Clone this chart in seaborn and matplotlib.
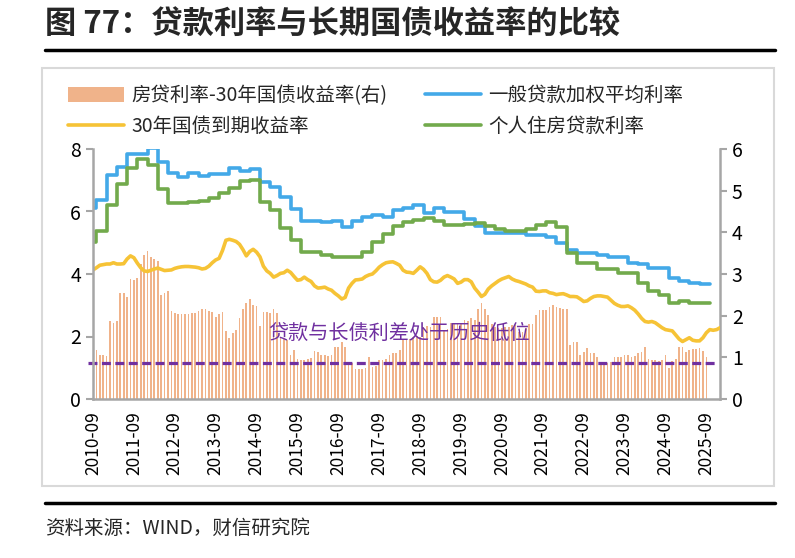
import numpy as np
import pandas as pd
import matplotlib
matplotlib.use("Agg")
import matplotlib.pyplot as plt
from matplotlib.patches import Patch, Rectangle
from matplotlib.lines import Line2D
import seaborn as sns


TITLE = "图 77：贷款利率与长期国债收益率的比较"
SOURCE = "资料来源：WIND，财信研究院"
NOTE = "贷款与长债利差处于历史低位"
LABELS = ["房贷利率-30年国债收益率(右)", "30年国债到期收益率", "一般贷款加权平均利率", "个人住房贷款利率"]

# quarterly series (left axis), first value dated 2010-07
blue_rate = [6.10, 6.37, 7.17, 7.41, 7.84, 7.84, 8.02, 7.59, 7.22, 7.09,
             7.24, 7.14, 7.20, 7.20, 7.38, 7.30, 7.35, 6.95, 6.79, 6.47,
             6.07, 5.70, 5.70, 5.65, 5.70, 5.52, 5.70, 5.81, 5.89, 5.81,
             6.05, 6.10, 6.21, 5.96, 6.10, 5.99, 5.99, 5.75, 5.54, 5.30,
             5.30, 5.30, 5.32, 5.25, 5.25, 5.19, 5.00, 4.77, 4.66, 4.66,
             4.60, 4.53, 4.53, 4.36, 4.32, 4.18, 4.18, 3.86, 3.79, 3.70,
             3.68, 3.68]
green_rate = [5.03, 5.39, 6.21, 6.88, 7.38, 7.67, 7.49, 6.71, 6.26, 6.26,
              6.31, 6.34, 6.42, 6.58, 6.74, 6.99, 7.01, 6.31, 6.05, 5.46,
              5.09, 4.71, 4.71, 4.61, 4.55, 4.55, 4.55, 4.71, 5.03, 5.28,
              5.55, 5.67, 5.73, 5.78, 5.70, 5.57, 5.57, 5.60, 5.62, 5.55,
              5.43, 5.39, 5.39, 5.43, 5.57, 5.67, 5.51, 4.66, 4.34, 4.34,
              4.16, 4.16, 4.02, 4.02, 3.70, 3.47, 3.33, 3.08, 3.13, 3.08,
              3.06, 3.06]

# monthly 30y yield (left axis), 2010-09 .. 2026-01
yield_30y = [4.13, 4.20, 4.28, 4.30, 4.32, 4.32, 4.36, 4.32, 4.32, 4.33,
             4.48, 4.58, 4.52, 4.35, 4.20, 4.10, 4.08, 4.12, 4.16, 4.19,
             4.15, 4.11, 4.12, 4.13, 4.18, 4.21, 4.23, 4.24, 4.24, 4.23,
             4.22, 4.20, 4.16, 4.18, 4.25, 4.36, 4.45, 4.50, 4.75, 5.08,
             5.11, 5.08, 5.04, 4.95, 4.78, 4.58, 4.72, 4.79, 4.70, 4.55,
             4.25, 4.10, 4.02, 3.90, 3.95, 4.02, 4.04, 4.12, 4.05, 3.92,
             3.80, 3.82, 3.90, 3.82, 3.76, 3.62, 3.55, 3.56, 3.58, 3.52,
             3.48, 3.38, 3.30, 3.20, 3.25, 3.55, 3.70, 3.81, 3.82, 3.84,
             3.92, 3.97, 4.00, 4.10, 4.22, 4.30, 4.36, 4.38, 4.39, 4.34,
             4.28, 4.12, 4.06, 4.05, 4.02, 4.12, 4.23, 4.15, 4.02, 3.82,
             3.75, 3.74, 3.80, 3.90, 3.95, 3.90, 3.84, 3.70, 3.74, 3.82,
             3.82, 3.75, 3.55, 3.42, 3.28, 3.35, 3.52, 3.62, 3.70, 3.78,
             3.84, 3.88, 3.92, 3.84, 3.79, 3.76, 3.72, 3.68, 3.62, 3.58,
             3.45, 3.44, 3.46, 3.46, 3.40, 3.38, 3.34, 3.36, 3.37, 3.33,
             3.28, 3.28, 3.27, 3.20, 3.12, 3.14, 3.22, 3.28, 3.30, 3.30,
             3.28, 3.26, 3.16, 3.06, 3.00, 2.96, 2.96, 2.98, 2.92, 2.84,
             2.72, 2.58, 2.48, 2.46, 2.48, 2.44, 2.36, 2.28, 2.22, 2.20,
             2.18, 2.05, 1.92, 1.84, 1.90, 1.96, 1.88, 1.86, 1.86, 1.96,
             2.12, 2.22, 2.20, 2.22, 2.28]

# monthly spread (right axis), 2010-10 .. 2025-09
spread = [1.18, 1.06, 1.05, 1.03, 1.87, 1.83, 1.87, 2.54, 2.54, 2.46, 2.88, 2.86,
          2.91, 3.24, 3.46, 3.55, 3.42, 3.35, 3.31, 2.50, 2.54, 2.59, 2.11, 2.07,
          2.05, 2.03, 2.03, 2.05, 2.07, 2.07, 2.11, 2.15, 2.17, 2.12, 2.10, 1.98,
          2.04, 2.08, 1.63, 1.46, 1.59, 1.65, 1.94, 2.17, 2.30, 2.39, 2.25, 2.23,
          1.75, 2.10, 2.10, 2.06, 2.15, 2.06, 1.50, 1.45, 1.42, 1.06, 1.18, 0.95,
          0.94, 0.94, 0.96, 0.98, 1.16, 1.12, 1.06, 1.06, 1.04, 1.06, 1.26, 1.26,
          1.38, 1.26, 0.86, 0.86, 0.72, 0.72, 0.72, 0.74, 1.00, 0.78, 0.80, 0.94,
          0.94, 0.96, 1.06, 1.10, 1.10, 1.18, 1.42, 1.42, 1.45, 1.50, 1.52, 1.50,
          1.74, 1.76, 1.74, 1.98, 1.98, 1.98, 1.66, 1.68, 1.82, 1.82, 1.80, 1.82,
          1.90, 1.88, 1.94, 1.90, 2.17, 2.31, 2.15, 2.01, 1.80, 1.72, 1.70, 1.70,
          1.72, 1.74, 1.78, 1.78, 1.62, 1.62, 1.70, 1.80, 1.80, 2.01, 2.13, 2.13,
          2.13, 2.20, 2.25, 2.20, 2.18, 2.15, 2.15, 1.30, 1.36, 1.38, 1.06, 1.14,
          1.22, 1.10, 1.10, 1.02, 0.86, 0.86, 0.86, 0.88, 1.00, 1.00, 1.02, 1.06,
          1.06, 1.00, 1.04, 1.10, 1.12, 1.24, 0.96, 0.94, 0.94, 0.92, 0.94, 1.06,
          0.74, 0.92, 0.96, 1.24, 1.26, 1.12, 1.18, 1.20, 1.20, 1.22, 1.15, 1.02]
spread_low = 0.87

tick_years = list(range(2010, 2026))
tick_labels = [f"{y}-09" for y in tick_years]

BLUE = "#43A9E8"
GREEN = "#72AA4C"
YELLOW = "#F6C336"
ORANGE = "#F0B38A"
PURPLE = "#7030A0"
GRAY = "#A6A6A6"


def month_index(dates):
    # months since 2010-09
    return (dates.year - 2010) * 12 + dates.month - 9


def main():
    sns.set_style("white")
    plt.rcParams["font.family"] = ["Noto Sans CJK SC", "DejaVu Sans"]

    q_idx = month_index(pd.date_range("2010-07-01", periods=len(blue_rate), freq="3MS"))
    y_idx = month_index(pd.date_range("2010-09-01", periods=len(yield_30y), freq="MS"))
    s_idx = month_index(pd.date_range("2010-10-01", periods=len(spread), freq="MS"))

    W, H = 795, 558
    fig = plt.figure(figsize=(W / 100, H / 100), dpi=100)
    ax = fig.add_axes([93 / W, 1 - 399 / H, (720 - 93) / W, (399 - 149) / H])
    ax2 = ax.twinx()

    sns.barplot(x=np.asarray(s_idx), y=spread, native_scale=True, width=0.5,
                color=ORANGE, saturation=1, linewidth=0, errorbar=None, ax=ax2)
    ax2.axhline(spread_low, xmin=-0.008, xmax=0.995, color=PURPLE, linewidth=2.3,
                dashes=(2.8, 1.4), clip_on=False, zorder=5)

    sns.lineplot(x=np.asarray(q_idx), y=blue_rate, color=BLUE, linewidth=2.6,
                 drawstyle="steps-post", estimator=None, legend=False, ax=ax)
    sns.lineplot(x=np.asarray(q_idx), y=green_rate, color=GREEN, linewidth=2.6,
                 drawstyle="steps-post", estimator=None, legend=False, ax=ax)
    sns.lineplot(x=np.asarray(y_idx), y=yield_30y, color=YELLOW, linewidth=2.6,
                 estimator=None, legend=False, ax=ax)

    ax.set_zorder(ax2.get_zorder() + 1)
    ax.patch.set_visible(False)

    ax.set_xlim(0, 184)
    ax.set_ylim(0, 8)
    ax2.set_ylim(0, 6)
    ax.set_yticks([0, 2, 4, 6, 8])
    ax2.set_yticks(range(7))
    ax.set_xticks([(y - 2010) * 12 for y in tick_years])
    ax.set_xticklabels(tick_labels, rotation=90)
    ax.set_xlabel("")
    ax.set_ylabel("")
    ax2.set_ylabel("")
    ax2.set_xlabel("")

    for a in (ax, ax2):
        a.spines["top"].set_visible(False)
        for s in a.spines.values():
            s.set_color(GRAY)
            s.set_linewidth(1.8)
    ax.spines["right"].set_visible(False)
    ax2.spines["left"].set_visible(False)
    ax2.spines["bottom"].set_visible(False)
    ax.tick_params(axis="both", colors=GRAY, labelcolor="black", length=5,
                   width=1.5, labelsize=14, direction="out")
    ax.tick_params(axis="x", labelsize=12.5, pad=4)
    ax2.tick_params(axis="y", colors=GRAY, labelcolor="black", length=5,
                    width=1.5, labelsize=14, direction="out")
    ax.grid(False)
    ax2.grid(False)

    ax.text((268 - 93) / 627, (399 - 333) / 250, NOTE, transform=ax.transAxes,
            color=PURPLE, fontsize=14.5, va="center", ha="left", zorder=6)

    # legend, two columns placed separately
    h_bar = Patch(facecolor=ORANGE, edgecolor="none")
    h_yel = Line2D([], [], color=YELLOW, linewidth=2.6)
    h_blu = Line2D([], [], color=BLUE, linewidth=2.6)
    h_grn = Line2D([], [], color=GREEN, linewidth=2.6)
    common = dict(frameon=False, fontsize=14, handlelength=2.9, handleheight=0.8,
                  handletextpad=0.35, labelspacing=0.5, borderpad=0,
                  borderaxespad=0, loc="upper left")
    fig.legend([h_bar, h_yel], LABELS[:2], bbox_to_anchor=(68 / W, 1 - 85 / H), **common)
    fig.legend([h_blu, h_grn], LABELS[2:], bbox_to_anchor=(425 / W, 1 - 85 / H), **common)

    # frame around chart area
    fig.add_artist(Rectangle((42 / W, 1 - 486 / H), (774 - 42) / W, (486 - 68) / H,
                             transform=fig.transFigure, fill=False,
                             edgecolor="#D9D9D9", linewidth=1.5))

    fig.text(45 / W, 1 - 25 / H, TITLE, fontsize=22.5, fontweight="bold", va="center")
    fig.add_artist(Line2D([45 / W, 775 / W], [1 - 50 / H] * 2, color="black", linewidth=2.5))
    fig.add_artist(Line2D([45 / W, 775 / W], [1 - 503 / H] * 2, color="black", linewidth=2.5))
    fig.text(45 / W, 1 - 528 / H, SOURCE, fontsize=14, va="center", style="italic")

    fig.savefig("out.png", dpi=100)


if __name__ == "__main__":
    main()
